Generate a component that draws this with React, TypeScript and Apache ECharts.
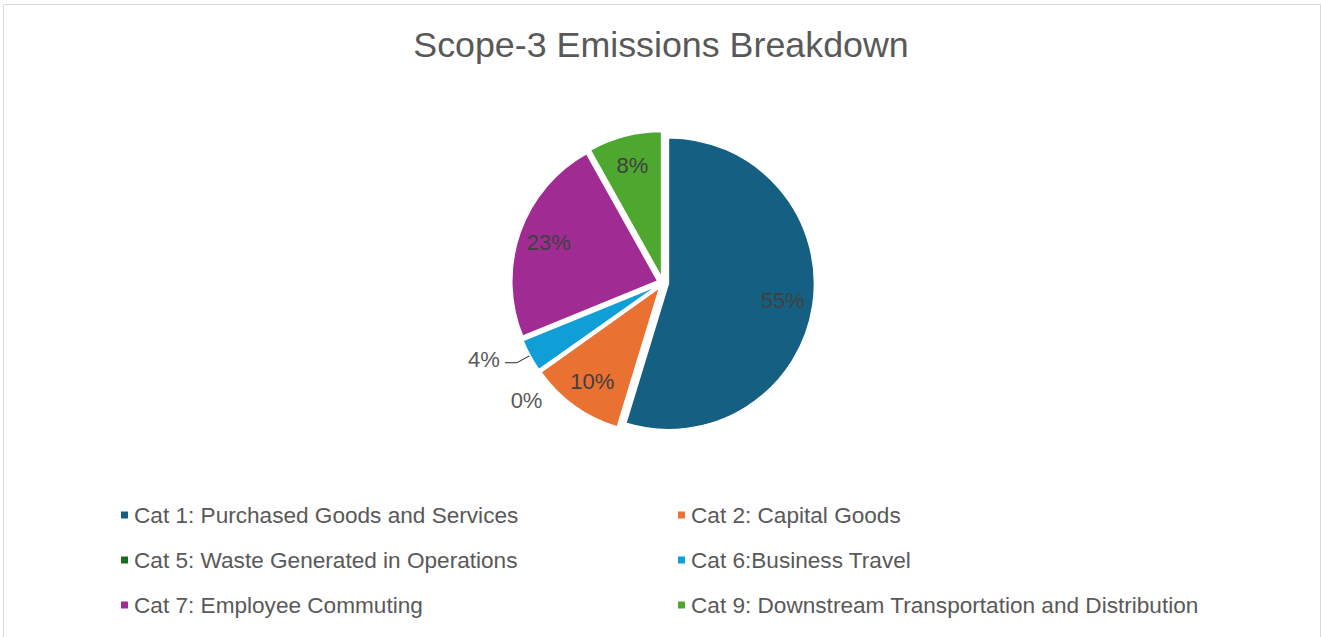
import React, { useEffect, useRef } from 'react';
import * as echarts from 'echarts';

const categories = [
  'Cat 1: Purchased Goods and Services',
  'Cat 2: Capital Goods',
  'Cat 5: Waste Generated in Operations',
  'Cat 6:Business Travel',
  'Cat 7: Employee Commuting',
  'Cat 9: Downstream Transportation and Distribution',
];
const shares = [54.6, 10.4, 0.1, 3.6, 23.0, 8.1];
const colors = ['#156082', '#E97132', '#196B24', '#0F9ED5', '#A02B93', '#4EA72E'];
const titleText = 'Scope-3 Emissions Breakdown';
const leftLegendItems = [categories[0], categories[2], categories[4]];
const rightLegendItems = [categories[1], categories[3], categories[5]];
const insideLabelIdx = [0, 1, 4, 5];

export default function App() {
  const ref = useRef<HTMLDivElement>(null);
  useEffect(() => {
    const chart = echarts.init(ref.current!, undefined, { renderer: 'svg' });
    const font = 'Liberation Sans';
    const center = ['50.15%', '44.4%'];

    const mainData = categories.map((name, i) => {
      const item: any = { name, value: shares[i], selected: true, itemStyle: { color: colors[i] } };
      if (i === 3) {
        item.label = { show: true };
        item.labelLine = { show: true, length: 15, length2: 12 };
      } else if (i === 2) {
        item.label = { show: true };
        item.labelLine = { show: false, length: 38, length2: 0 };
      }
      return item;
    });

    const overlayData = categories.map((name, i) => ({
      name,
      value: shares[i],
      label: { show: insideLabelIdx.includes(i) },
    }));

    const legendBase = {
      orient: 'vertical',
      top: 498,
      icon: 'rect',
      itemWidth: 9,
      itemHeight: 9,
      itemGap: 21,
      itemTextGap: 8,
      selectedMode: false,
      textStyle: { fontFamily: font, fontSize: 22.6, color: '#595959', lineHeight: 24 },
    };

    chart.setOption({
      animation: false,
      backgroundColor: '#ffffff',
      title: {
        text: titleText,
        left: 'center',
        top: 22,
        textStyle: { fontFamily: font, fontSize: 35.8, fontWeight: 'normal', color: '#595959' },
      },
      legend: [
        { ...legendBase, left: 114, data: leftLegendItems },
        { ...legendBase, left: 671, data: rightLegendItems },
      ],
      graphic: [
        {
          type: 'rect',
          shape: { x: 3.5, y: 4.5, width: 1317, height: 700 },
          style: { fill: 'none', stroke: '#d9d9d9', lineWidth: 1 },
          silent: true,
        },
      ],
      series: [
        {
          type: 'pie',
          center,
          radius: [0, 146],
          startAngle: 90,
          clockwise: true,
          selectedMode: 'multiple',
          selectedOffset: 5.5,
          avoidLabelOverlap: false,
          percentPrecision: 0,
          itemStyle: { borderColor: '#ffffff', borderWidth: 1.5 },
          select: { itemStyle: { borderColor: '#ffffff', borderWidth: 1.5 } },
          emphasis: { disabled: true },
          label: {
            show: false,
            position: 'outside',
            formatter: '{d}%',
            fontFamily: font,
            fontSize: 22,
            color: '#595959',
          },
          labelLine: { show: false, smooth: false, lineStyle: { color: '#262626', width: 1 } },
          labelLayout: (params: any) =>
            params.dataIndex === 2 ? { dx: 39, dy: 8 } : params.dataIndex === 3 ? { dy: -3 } : {},
          data: mainData,
        },
        {
          type: 'pie',
          center,
          radius: [106, 130],
          startAngle: 90,
          clockwise: true,
          silent: true,
          z: 5,
          percentPrecision: 0,
          avoidLabelOverlap: false,
          itemStyle: { color: 'rgba(0,0,0,0)', borderWidth: 0 },
          emphasis: { disabled: true },
          label: {
            show: true,
            position: 'inside',
            formatter: '{d}%',
            fontFamily: font,
            fontSize: 22,
            color: '#404040',
          },
          labelLine: { show: false },
          data: overlayData,
        },
      ],
    });
    return () => chart.dispose();
  }, []);
  return (
    <div
      ref={ref}
      style={{ position: 'absolute', left: 0, top: 0, width: 1322, height: 637, background: '#fff' }}
    />
  );
}
